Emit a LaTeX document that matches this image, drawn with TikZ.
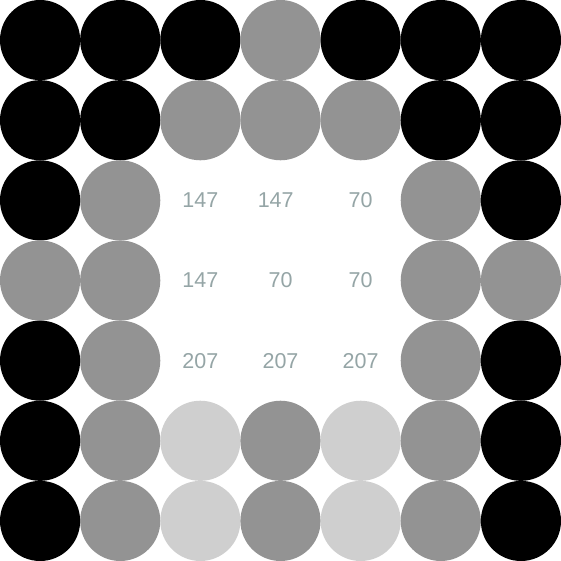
\documentclass[tikz,border=0pt]{standalone}
\usepackage{fontspec}
\setmainfont{Liberation Sans}
\definecolor{dotgray}{RGB}{147,147,147}
\definecolor{dotlight}{RGB}{207,207,207}
\definecolor{numgray}{RGB}{149,165,166}
\tikzset{
  dot/.style={circle, fill=#1, draw=none, minimum size=80.14pt, inner sep=0pt},
  num/.style={text=numgray, inner sep=0pt, font=\fontsize{21.5}{21.5}\selectfont}
}
\begin{document}
\begin{tikzpicture}[x=80.14pt, y=-80.14pt]
                \useasboundingbox (0,0) rectangle (7,7);
                % outer rows
                \foreach \c [count=\i from 0] in {black,black,black,dotgray,black,black,black}
                    \node[dot=\c] (r0c\i) at (\i+0.5,0.5) {};
                \foreach \c [count=\i from 0] in {black,black,dotgray,dotgray,dotgray,black,black}
                    \node[dot=\c] (r1c\i) at (\i+0.5,1.5) {};
                % middle rows: dots at the sides, values inside
                \foreach \c/\i in {black/0,dotgray/1,dotgray/5,black/6}
                    \node[dot=\c] (r2c\i) at (\i+0.5,2.5) {};
                \foreach \t/\i/\dx in {147/2/0,147/3/-0.06,70/4/0}
                    \node[num] (r2c\i) at (\i+0.5+\dx,2.5) {\t};
                \foreach \c/\i in {dotgray/0,dotgray/1,dotgray/5,dotgray/6}
                    \node[dot=\c] (r3c\i) at (\i+0.5,3.5) {};
                \foreach \t/\i in {147/2,70/3,70/4}
                    \node[num] (r3c\i) at (\i+0.5,3.5) {\t};
                \foreach \c/\i in {black/0,dotgray/1,dotgray/5,black/6}
                    \node[dot=\c] (r4c\i) at (\i+0.5,4.5) {};
                \foreach \t/\i in {207/2,207/3,207/4}
                    \node[num] (r4c\i) at (\i+0.5,4.5) {\t};
                % bottom rows
                \foreach \c [count=\i from 0] in {black,dotgray,dotlight,dotgray,dotlight,dotgray,black}
                    \node[dot=\c] (r5c\i) at (\i+0.5,5.5) {};
                \foreach \c [count=\i from 0] in {black,dotgray,dotlight,dotgray,dotlight,dotgray,black}
                    \node[dot=\c] (r6c\i) at (\i+0.5,6.5) {};
\end{tikzpicture}
\end{document}
